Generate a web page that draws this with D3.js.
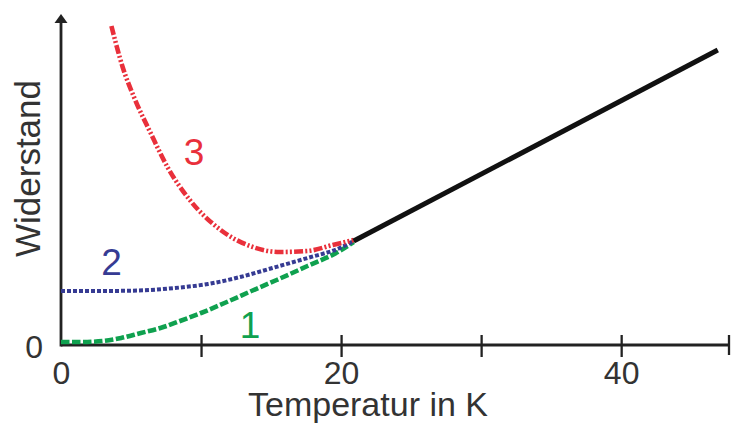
<!DOCTYPE html>
<html><head><meta charset="utf-8">
<script src="https://cdn.jsdelivr.net/npm/d3@7"></script>
<style>
html,body{margin:0;padding:0;background:#fff;}
svg{display:block;font-family:"Liberation Sans",Arial,sans-serif;}
</style></head>
<body><svg id="c" width="731" height="423"></svg>
<script>
// Data (T in K, R in arbitrary units)
const xTicks = [0, 10, 20, 30, 40];
const xTickLabels = ["0", "", "20", "", "40"];
const yTickLabel = "0";
const curve1 = [[0,0.3],[1.5,0.3],[3,0.4],[4.3,0.7],[5.7,1.2],[7.1,1.7],[8.5,2.4],[10,3.2],[12,4.4],[13.6,5.4],[15.4,6.5],[17.6,7.9],[19.9,9.4],[20.9,10.3]];
const curve2 = [[0,5.4],[3,5.4],[5.5,5.45],[8.5,5.75],[10.5,6.1],[12.8,6.8],[15.1,7.7],[17.6,8.7],[19.9,9.7],[20.9,10.4]];
const curve3 = [[3.6,31.9],[4.4,27.8],[5.3,24.5],[6.4,21.2],[7.6,17.8],[9.2,14.5],[11.4,11.5],[13.7,9.8],[15.6,9.3],[17.6,9.4],[19.4,10.0],[20.9,10.5]];
const normal = [[20.9,10.4],[46.9,29.5]];
const curveLabels = [["1",13.5,0.7],["2",3.6,7.0],["3",9.5,18.0]];

const svg = d3.select("#c");
const x = d3.scaleLinear().domain([0, 47.7]).range([61, 729]);
const y = d3.scaleLinear().domain([0, 33]).range([345, 15]);
const axisCol = "#222";

// x axis
svg.append("line").attr("x1", x(0)).attr("x2", x(47.7)).attr("y1", y(0)).attr("y2", y(0))
  .attr("stroke", axisCol).attr("stroke-width", 2.8);
svg.append("line").attr("x1", x(47.7)).attr("x2", x(47.7)).attr("y1", y(0)-10).attr("y2", y(0)+10)
  .attr("stroke", axisCol).attr("stroke-width", 2.3);
const ax = svg.append("g").attr("transform", `translate(0,${y(0)})`)
  .call(d3.axisBottom(x).tickValues(xTicks).tickSize(12).tickPadding(6)
    .tickFormat((d,i) => xTickLabels[i]));
ax.select(".domain").remove();
ax.selectAll(".tick line").attr("y1", -10).attr("y2", 12).attr("stroke", axisCol).attr("stroke-width", 2.3)
  .filter(d => d === 0).remove();
ax.selectAll(".tick text").attr("font-size", 32).attr("fill", "#333")
  .attr("font-family", "Liberation Sans, Arial, sans-serif").attr("y", 39).attr("dy", 0);

// y axis with arrow
svg.append("line").attr("x1", x(0)).attr("x2", x(0)).attr("y1", y(0)+1.4).attr("y2", 21)
  .attr("stroke", axisCol).attr("stroke-width", 2.8);
svg.append("path").attr("d", `M${x(0)},14 L${x(0)-6.5},23 L${x(0)+6.5},23 Z`).attr("fill", axisCol);
svg.append("text").attr("x", 43).attr("y", 358).attr("text-anchor", "end")
  .attr("font-size", 32).attr("fill", "#333").text(yTickLabel);

// axis titles
svg.append("text").attr("x", 368).attr("y", 416).attr("text-anchor", "middle")
  .attr("font-size", 34).attr("fill", "#333").text("Temperatur in K");
svg.append("text").attr("transform", "translate(40,168.5) rotate(-90)").attr("text-anchor", "middle")
  .attr("font-size", 35).attr("fill", "#333").text("Widerstand");

const line = d3.line().x(d => x(d[0])).y(d => y(d[1])).curve(d3.curveMonotoneX);

svg.append("path").datum(curve1).attr("d", line).attr("fill", "none")
  .attr("stroke", "#0fa14f").attr("stroke-width", 4.6).attr("stroke-dasharray", "8.5,2.5");
svg.append("path").datum(curve2).attr("d", line).attr("fill", "none")
  .attr("stroke", "#363b93").attr("stroke-width", 4).attr("stroke-dasharray", "4,2");
svg.append("path").datum(curve3).attr("d", line).attr("fill", "none")
  .attr("stroke", "#e9303b").attr("stroke-width", 4.6).attr("stroke-dasharray", "9,2.2,2,2.2,2,2.2");
svg.append("path").datum(normal).attr("d", line).attr("fill", "none")
  .attr("stroke", "#111").attr("stroke-width", 5);

const labCol = {"1":"#0fa14f","2":"#363b93","3":"#e9303b"};
svg.selectAll(".clab").data(curveLabels).enter().append("text")
  .attr("x", d => x(d[1])).attr("y", d => y(d[2])).attr("text-anchor", "middle")
  .attr("font-size", 37).attr("fill", d => labCol[d[0]]).text(d => d[0]);
</script></body></html>
